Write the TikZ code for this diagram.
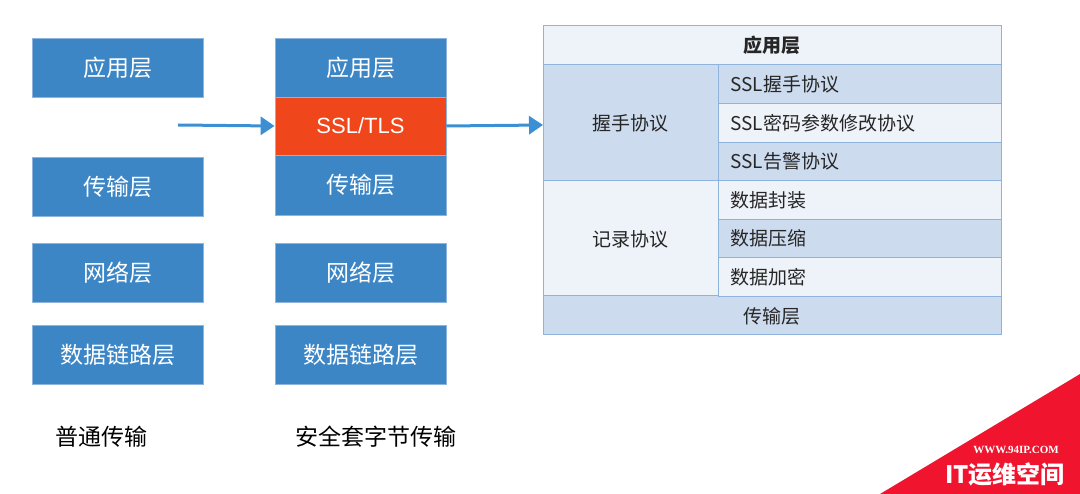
\documentclass[tikz,border=0pt]{standalone}
\usepackage{fontspec}
\setmainfont{Noto Sans CJK SC}
\newfontfamily\lat{Liberation Sans}
\usetikzlibrary{arrows.meta}
\definecolor{bbox}{HTML}{3D86C6}
\definecolor{redb}{HTML}{F0461C}
\definecolor{lt}{HTML}{EEF2F9}
\definecolor{bl}{HTML}{CDDBEF}
\definecolor{bd}{HTML}{8EB4DE}
\definecolor{arr}{HTML}{3C8FD2}
\definecolor{wm}{HTML}{F0142E}
\tikzset{
 lay/.style={fill=bbox,draw=bd,line width=0.8pt,text=white,font=\fontsize{23}{23}\selectfont,minimum width=171pt,inner sep=0pt},
 cell/.style={draw=bd,line width=1pt,inner sep=0pt},
 ct/.style={font=\fontsize{19}{19}\selectfont,text=black!85},
 flow/.style={draw=arr,line width=3pt,-{Triangle[length=14pt,width=18pt]}}
}
\begin{document}
\begin{tikzpicture}[x=1pt,y=-1pt]
\useasboundingbox (0,0) rectangle (1080,494);
% left column
\node[lay,minimum height=59pt] (a1) at (117.5,67.5) {应用层};
\node[lay,minimum height=59pt] (a2) at (117.5,186.5) {传输层};
\node[lay,minimum height=59pt] (a3) at (117.5,272.5) {网络层};
\node[lay,minimum height=59pt] (a4) at (117.5,354.5) {数据链路层};
\node[font=\fontsize{23}{23}\selectfont] (l1) at (101,437) {普通传输};
% middle column
\node[lay,minimum height=59pt] (b1) at (360.5,67.5) {应用层};
\node[lay,fill=redb,minimum height=58pt,font=\lat\fontsize{22}{22}\selectfont] (b2) at (360.5,126) {SSL/TLS};
\node[lay,minimum height=60pt] (b3) at (360.5,185) {传输层};
\node[lay,minimum height=59pt] (b4) at (360.5,272.5) {网络层};
\node[lay,minimum height=59pt] (b5) at (360.5,354.5) {数据链路层};
\node[font=\fontsize{23}{23}\selectfont] (l2) at (376,437) {安全套字节传输};
\coordinate (s) at (178,125);
\draw[flow] (s) -- (b2.west);
% table
\coordinate (t) at (543,125);
\draw[flow] (b2.east) -- (t);
\foreach \y/\h/\c in {26/39/lt,296/39/bl}{
  \path[cell,fill=\c] (543,\y) rectangle (1001,\y+\h);}
\node[ct,font=\bfseries\fontsize{19}{19}\selectfont] (h1) at (772,45.5) {应用层};
\node[ct] (h2) at (772,316) {传输层};
\path[cell,fill=bl] (543,65) rectangle (718,181);
\path[cell,fill=lt] (543,181) rectangle (718,296);
\node[ct] (g1) at (630,123) {握手协议};
\node[ct] (g2) at (630,239) {记录协议};
\foreach \y/\c/\t [count=\i] in {65/bl/{SSL握手协议},103.7/lt/{SSL密码参数修改协议},142.3/bl/{SSL告警协议},181/lt/{数据封装},219.3/bl/{数据压缩},257.7/lt/{数据加密}}{
  \path[cell,fill=\c] (718,\y) rectangle (1001,\y+38.6);
  \node[ct,anchor=west] (r\i) at (727,\y+19.3) {\t};}
% watermark
\fill[wm] (880,494) -- (1080,374) -- (1080,494) -- cycle;
\node[text=white,font=\bfseries\fontsize{11}{11}\selectfont\fontspec{Liberation Serif}] (w1) at (1016,450) {WWW.94IP.COM};
\node[text=white,font=\bfseries\fontsize{24}{24}\selectfont] (w2) at (1005,474) {IT运维空间};
\end{tikzpicture}
\end{document}
